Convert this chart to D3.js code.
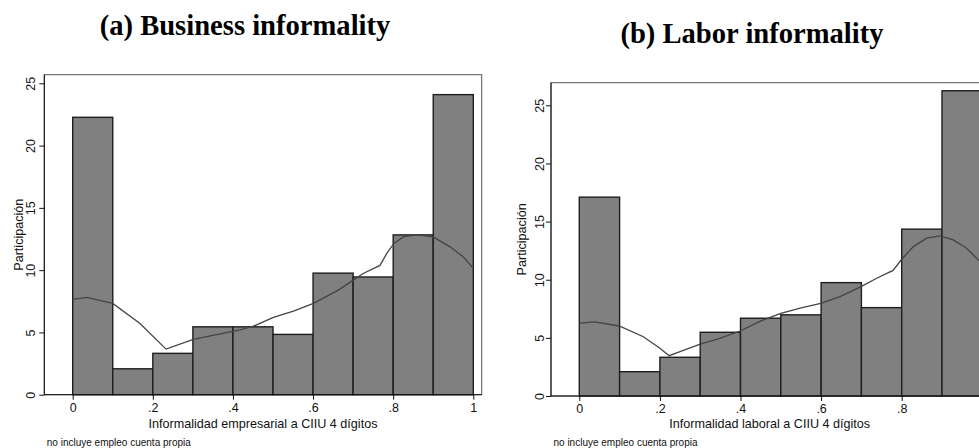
<!DOCTYPE html>
<html>
<head>
<meta charset="utf-8">
<script src="https://cdn.jsdelivr.net/npm/d3@7"></script>
<style>
  html, body { margin: 0; padding: 0; background: #fff; }
  svg { display: block; }
</style>
</head>
<body>
<svg id="chart" width="979" height="448"></svg>
<script>
// Histogram bins (left edges, width 0.1) shared by both panels
const binStarts = [0, 0.1, 0.2, 0.3, 0.4, 0.5, 0.6, 0.7, 0.8, 0.9];
const binWidth = 0.1;

// Share of employment (%) per bin
const businessShares = [22.27, 2.08, 3.32, 5.45, 5.45, 4.84, 9.76, 9.45, 12.83, 24.09];
const laborShares    = [17.1, 2.09, 3.33, 5.48, 6.69, 6.98, 9.75, 7.6, 14.35, 26.25];

// Smoothed density curves
const businessCurveX = [0, 0.035, 0.1, 0.168, 0.233, 0.301, 0.418, 0.451, 0.501, 0.551, 0.601, 0.663, 0.7, 0.725, 0.767, 0.784, 0.802, 0.825, 0.859, 0.9, 0.942, 0.975, 1.0];
const businessCurveY = [7.65, 7.81, 7.33, 5.72, 3.66, 4.44, 5.2, 5.5, 6.2, 6.71, 7.33, 8.4, 9.2, 9.73, 10.38, 11.34, 12.14, 12.67, 12.83, 12.67, 11.87, 11.07, 10.14];
const laborCurveX = [0, 0.039, 0.099, 0.159, 0.2, 0.223, 0.25, 0.3, 0.349, 0.399, 0.448, 0.5, 0.548, 0.599, 0.647, 0.699, 0.738, 0.767, 0.778, 0.8, 0.829, 0.862, 0.895, 0.928, 0.961, 0.992, 1.0];
const laborCurveY = [6.26, 6.37, 6.02, 5.1, 4.1, 3.47, 3.81, 4.47, 4.96, 5.59, 6.42, 7.11, 7.55, 7.97, 8.55, 9.41, 10.13, 10.61, 10.78, 11.76, 12.85, 13.57, 13.77, 13.42, 12.71, 11.64, 11.3];

// Axis ticks
const xTicks = [0, 0.2, 0.4, 0.6, 0.8, 1];
const xTickLabels = ["0", ".2", ".4", ".6", ".8", "1"];
const yTicks = [0, 5, 10, 15, 20, 25];

const titles = ["(a) Business informality", "(b) Labor informality"];
const xTitles = ["Informalidad empresarial a CIIU 4 dígitos", "Informalidad laboral a CIIU 4 dígitos"];
const yTitle = "Participación";
const note = "no incluye empleo cuenta propia";

const W = 979;

// Layout of each panel (pixel geometry)
const panels = [
  { shares: businessShares, cx: businessCurveX, cy: businessCurveY,
    title: titles[0], xTitle: xTitles[0], titleX: 245, titleY: 35,
    frameL: 44.3, frameR: 481.7, frameT: 74.7,
    x0: 72.7, x1: 473.3, y0: 394.7, y25: 83.3,
    yTickLabelX: 34.5, yTitleX: 22.5 },
  { shares: laborShares, cx: laborCurveX, cy: laborCurveY,
    title: titles[1], xTitle: xTitles[1], titleX: 752, titleY: 43,
    frameL: 551, frameR: 988.4, frameT: 82.7,
    x0: 579.3, x1: 982.3, y0: 396, y25: 105.3,
    yTickLabelX: 543.5, yTitleX: 526 }
];

const svg = d3.select("#chart");
const sans = "'Liberation Sans', Arial, Helvetica, sans-serif";

panels.forEach(p => {
  const g = svg.append("g");
  const x = d3.scaleLinear().domain([0, 1]).range([p.x0, p.x1]);
  const y = d3.scaleLinear().domain([0, 25]).range([p.y0, p.y25]);

  // Title
  g.append("text")
    .attr("x", p.titleX).attr("y", p.titleY)
    .attr("text-anchor", "middle")
    .style("font-family", "'Liberation Serif', 'Times New Roman', serif")
    .style("font-weight", "bold")
    .style("font-size", "28.6px")
    .text(p.title);

  // Plot region frame
  g.append("rect")
    .attr("x", p.frameL).attr("y", p.frameT)
    .attr("width", p.frameR - p.frameL).attr("height", p.y0 - p.frameT)
    .attr("fill", "none").attr("stroke", "#555").attr("stroke-width", 1);

  // Bars
  g.selectAll("rect.bar")
    .data(binStarts.map((b, i) => ({ b, v: p.shares[i] })))
    .join("rect")
    .attr("class", "bar")
    .attr("x", d => x(d.b))
    .attr("width", d => x(d.b + binWidth) - x(d.b))
    .attr("y", d => y(d.v))
    .attr("height", d => y(0) - y(d.v))
    .attr("fill", "#808080")
    .attr("stroke", "#1e1e1e")
    .attr("stroke-width", 1.4);

  // Density curve
  const line = d3.line().x(d => x(d[0])).y(d => y(d[1]));
  g.append("path")
    .datum(p.cx.map((v, i) => [v, p.cy[i]]))
    .attr("d", line)
    .attr("fill", "none")
    .attr("stroke", "#444")
    .attr("stroke-width", 1.3);

  // Axes (only ticks that land on the canvas)
  const visTicks = xTicks.filter(t => x(t) + 4 < W);
  const xAxis = d3.axisBottom(x).tickValues(visTicks)
    .tickFormat(d => xTickLabels[xTicks.indexOf(d)]).tickSize(5).tickPadding(3);
  const gx = g.append("g").attr("transform", `translate(0,${p.y0})`).call(xAxis);
  gx.select(".domain").attr("d", `M${p.frameL},0H${p.frameR}`).attr("stroke", "#111");
  gx.selectAll(".tick line").attr("stroke", "#111");
  gx.selectAll(".tick text").style("font-family", sans).style("font-size", "12.5px").attr("fill", "#111");

  const yAxis = d3.axisLeft(y).tickValues(yTicks).tickSize(5);
  const gy = g.append("g").attr("transform", `translate(${p.frameL},0)`).call(yAxis);
  gy.select(".domain").attr("d", `M0,${p.y0}V${p.frameT}`).attr("stroke", "#111");
  gy.selectAll(".tick line").attr("stroke", "#111");
  gy.selectAll(".tick text")
    .attr("x", 0).attr("dy", null).attr("y", 0)
    .attr("text-anchor", "middle")
    .attr("transform", `translate(${p.yTickLabelX - p.frameL},0) rotate(-90)`)
    .style("font-family", sans).style("font-size", "12.5px").attr("fill", "#111");

  // Axis titles
  g.append("text")
    .attr("x", (p.frameL + p.frameR) / 2).attr("y", 428)
    .attr("text-anchor", "middle")
    .style("font-family", sans).style("font-size", "12.6px").attr("fill", "#111")
    .text(p.xTitle);

  g.append("text")
    .attr("transform", `translate(${p.yTitleX},${(p.y0 + p.frameT) / 2}) rotate(-90)`)
    .attr("text-anchor", "middle")
    .style("font-family", sans).style("font-size", "12.6px").attr("fill", "#111")
    .text(yTitle);

  // Note
  g.append("text")
    .attr("x", p.frameL + 2.5).attr("y", 446)
    .style("font-family", sans).style("font-size", "10px").attr("fill", "#111")
    .text(note);
});
</script>
</body>
</html>
